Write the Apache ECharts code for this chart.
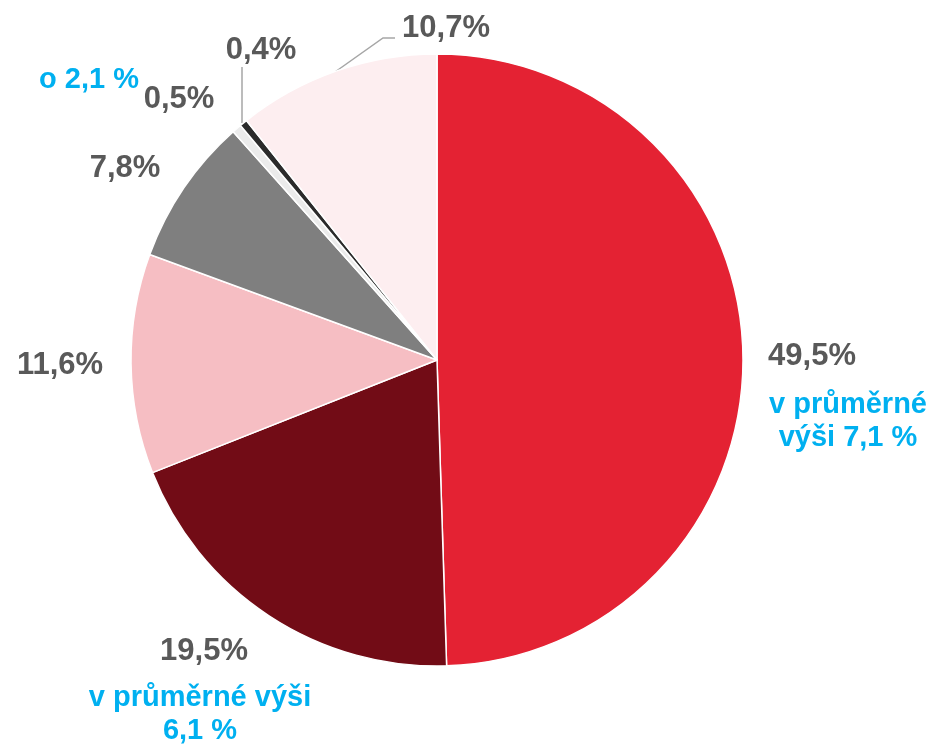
<!DOCTYPE html>
<html>
<head>
<meta charset="utf-8">
<script src="https://cdn.jsdelivr.net/npm/echarts@6/dist/echarts.min.js"></script>
<style>
html,body{margin:0;padding:0;background:#fff;}
#chart{width:936px;height:745px;}
</style>
</head>
<body>
<div id="chart"></div>
<script>
// ---- data ----
const values = [49.5, 19.5, 11.6, 7.8, 0.5, 0.4, 10.7];
const valueLabels = ['49,5%', '19,5%', '11,6%', '7,8%', '0,5%', '0,4%', '10,7%'];
const notes = ['v průměrné\nvýši 7,1 %', 'v průměrné výši\n6,1 %', '', '', 'o 2,1 %', '', ''];
const colors = ['#E42233', '#720C16', '#F6BEC3', '#7F7F7F', '#EBEBEB', '#2B2B2B', '#FDEEF0'];

// ---- layout (kept separate from data) ----
const labelPos = [[812, 356], [204, 651], [60, 365], [125, 168], [179, 99], [261, 50], [446, 28]];
const labelLines = [null, null, null, null, null,
  [[242, 123], [242, 95], [242, 67]],
  [[335, 72], [383, 38], [395, 38]]];
const notePos = [[848, 421], [200, 714], null, null, [89, 80], null, null];

const FONT = "'Liberation Sans', Arial, Helvetica, sans-serif";
const chart = echarts.init(document.getElementById('chart'), null, {renderer: 'canvas'});

const data = values.map((v, i) => ({
  value: v,
  name: 'p' + i,
  itemStyle: {color: colors[i]},
  labelLine: {show: !!labelLines[i]}
}));

const graphics = [];
notes.forEach((t, i) => {
  if (!t) return;
  graphics.push({
    type: 'text',
    x: notePos[i][0],
    y: notePos[i][1],
    style: {
      text: t,
      fill: '#00B0F0',
      font: 'bold 29px ' + FONT,
      lineHeight: 33,
      align: 'center',
      verticalAlign: 'middle'
    }
  });
});

chart.setOption({
  animation: false,
  backgroundColor: '#fff',
  graphic: graphics,
  series: [{
    type: 'pie',
    center: [437, 360],
    radius: [0, 306],
    startAngle: 90,
    clockwise: true,
    avoidLabelOverlap: false,
    data: data,
    itemStyle: {borderColor: '#fff', borderWidth: 1.5},
    label: {
      show: true,
      position: 'outside',
      formatter: p => valueLabels[p.dataIndex],
      color: '#595959',
      fontFamily: FONT,
      fontWeight: 'bold',
      fontSize: 31
    },
    labelLine: {
      show: true,
      lineStyle: {color: '#A6A6A6', width: 1.5}
    },
    labelLayout: function (params) {
      const i = params.dataIndex;
      const o = {
        x: labelPos[i][0],
        y: labelPos[i][1],
        align: 'center',
        verticalAlign: 'middle'
      };
      if (labelLines[i]) o.labelLinePoints = labelLines[i];
      return o;
    }
  }]
});
</script>
</body>
</html>
